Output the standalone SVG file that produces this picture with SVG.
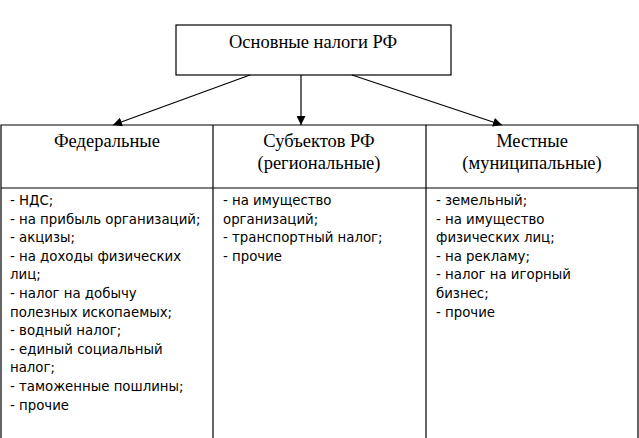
<svg xmlns="http://www.w3.org/2000/svg" width="639" height="438" viewBox="0 0 639 438">
<style>
.b{fill:#fff;stroke:#000;stroke-width:1.2}
.h{font-family:"Liberation Serif",serif;font-size:18.5px;text-anchor:middle}
.t{font-family:"DejaVu Sans",sans-serif;font-stretch:condensed;font-size:14.8px}
.c{stroke:#000;stroke-width:1.2;fill:none;marker-end:url(#a)}
</style>
<defs><marker id="a" viewBox="0 0 10 10" refX="10" refY="5" markerWidth="9" markerHeight="9" markerUnits="userSpaceOnUse" orient="auto"><path d="M0,0L10,5L0,10z"/></marker></defs>
<rect width="639" height="438" fill="#fff"/>
<g id="root"><rect class="b" x="176" y="25" width="275" height="50"/><text class="h" x="313" y="48">Основные налоги РФ</text></g>
<g id="connectors">
<line class="c" x1="250" y1="75" x2="113" y2="125"/>
<line class="c" x1="301" y1="75" x2="301" y2="125"/>
<line class="c" x1="352" y1="75" x2="502" y2="125"/>
</g>
<g id="table"><path d="M1,438V125H638V438M1,188H638M213,125V438M426,125V438" fill="none" stroke="#000" stroke-width="1.2"/></g>
<g id="federal"><text class="h" x="107" y="147">Федеральные</text>
<text class="t" x="10"><tspan x="10" y="205">- НДС;</tspan><tspan x="10" y="223.6">- на прибыль организаций;</tspan><tspan x="10" y="242.2">- акцизы;</tspan><tspan x="10" y="260.8">- на доходы физических</tspan><tspan x="10" y="279.4">лиц;</tspan><tspan x="10" y="298">- налог на добычу</tspan><tspan x="10" y="316.6">полезных ископаемых;</tspan><tspan x="10" y="335.2">- водный налог;</tspan><tspan x="10" y="353.8">- единый социальный</tspan><tspan x="10" y="372.4">налог;</tspan><tspan x="10" y="391">- таможенные пошлины;</tspan><tspan x="10" y="409.6">- прочие</tspan></text></g>
<g id="regional"><text class="h" x="319" y="147">Субъектов РФ</text><text class="h" x="319" y="169">(региональные)</text>
<text class="t"><tspan x="223" y="205">- на имущество</tspan><tspan x="223" y="223.6">организаций;</tspan><tspan x="223" y="242.2">-  транспортный налог;</tspan><tspan x="223" y="260.8">-  прочие</tspan></text></g>
<g id="local"><text class="h" x="532" y="147">Местные</text><text class="h" x="532" y="169">(муниципальные)</text>
<text class="t"><tspan x="436" y="205">- земельный;</tspan><tspan x="436" y="223.6">- на имущество</tspan><tspan x="436" y="242.2">физических лиц;</tspan><tspan x="436" y="260.8">- на рекламу;</tspan><tspan x="436" y="279.4">- налог на игорный</tspan><tspan x="436" y="298">бизнес;</tspan><tspan x="436" y="316.6">- прочие</tspan></text></g>
</svg>
